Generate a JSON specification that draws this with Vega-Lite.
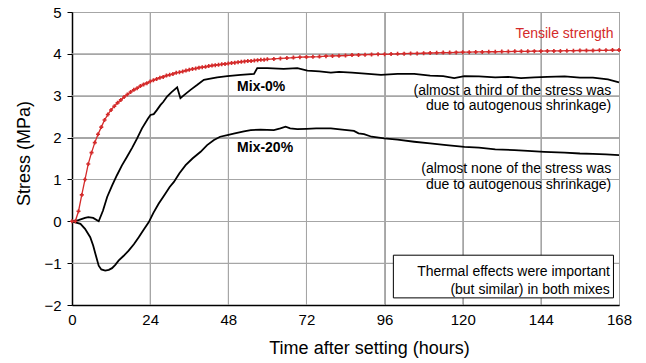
{
  "$schema": "https://vega.github.io/schema/vega-lite/v6.json",
  "width": 547,
  "height": 293,
  "autosize": {"type": "none"},
  "padding": {"left": 72, "top": 12, "right": 27, "bottom": 58},
  "background": "white",
  "config": {
    "font": "Liberation Sans",
    "view": {"stroke": "#555555", "strokeWidth": 1},
    "axis": {
      "grid": true,
      "gridColor": "#a6a6a6",
      "gridWidth": 1,
      "domainColor": "black",
      "domainWidth": 1.5,
      "labelColor": "black",
      "labelFontSize": 15,
      "labelFont": "Liberation Sans",
      "titleFont": "Liberation Sans",
      "titleFontWeight": "normal",
      "titleFontSize": 18,
      "titleColor": "black",
      "tickColor": "black"
    }
  },
  "datasets": {
    "gridx": [
      {"t": 23.85, "t2": 24.15}, {"t": 47.85, "t2": 48.15}, {"t": 71.85, "t2": 72.15},
      {"t": 95.85, "t2": 96.15}, {"t": 119.85, "t2": 120.15}, {"t": 143.85, "t2": 144.15}
    ],
    "gridy": [
      {"v": -1.012, "v2": -0.988}, {"v": 0.988, "v2": 1.012}, {"v": 1.988, "v2": 2.012},
      {"v": 2.988, "v2": 3.012}, {"v": 3.988, "v2": 4.012}
    ],
    "mix": [
      {"series": "Mix-0%", "t": 0, "v": 0},
      {"series": "Mix-0%", "t": 2, "v": 0.03},
      {"series": "Mix-0%", "t": 4, "v": 0.08},
      {"series": "Mix-0%", "t": 5, "v": 0.1},
      {"series": "Mix-0%", "t": 6.5, "v": 0.08},
      {"series": "Mix-0%", "t": 8.2, "v": 0.0},
      {"series": "Mix-0%", "t": 9.5, "v": 0.25},
      {"series": "Mix-0%", "t": 10.8, "v": 0.58},
      {"series": "Mix-0%", "t": 12.3, "v": 0.85},
      {"series": "Mix-0%", "t": 13.8, "v": 1.1},
      {"series": "Mix-0%", "t": 15.3, "v": 1.33},
      {"series": "Mix-0%", "t": 16.9, "v": 1.54},
      {"series": "Mix-0%", "t": 18.5, "v": 1.76},
      {"series": "Mix-0%", "t": 20, "v": 1.98},
      {"series": "Mix-0%", "t": 21.5, "v": 2.22},
      {"series": "Mix-0%", "t": 23.3, "v": 2.45},
      {"series": "Mix-0%", "t": 24.1, "v": 2.54},
      {"series": "Mix-0%", "t": 25.1, "v": 2.56},
      {"series": "Mix-0%", "t": 26, "v": 2.65},
      {"series": "Mix-0%", "t": 27.2, "v": 2.78},
      {"series": "Mix-0%", "t": 28, "v": 2.85},
      {"series": "Mix-0%", "t": 29.2, "v": 2.98},
      {"series": "Mix-0%", "t": 30.5, "v": 3.08},
      {"series": "Mix-0%", "t": 32.3, "v": 3.2},
      {"series": "Mix-0%", "t": 33.3, "v": 2.94},
      {"series": "Mix-0%", "t": 34.5, "v": 3.02},
      {"series": "Mix-0%", "t": 36.4, "v": 3.14},
      {"series": "Mix-0%", "t": 38.5, "v": 3.26},
      {"series": "Mix-0%", "t": 40.5, "v": 3.38},
      {"series": "Mix-0%", "t": 42.5, "v": 3.41},
      {"series": "Mix-0%", "t": 44.6, "v": 3.44},
      {"series": "Mix-0%", "t": 47.7, "v": 3.47},
      {"series": "Mix-0%", "t": 51.8, "v": 3.5},
      {"series": "Mix-0%", "t": 55.9, "v": 3.52},
      {"series": "Mix-0%", "t": 56.9, "v": 3.66},
      {"series": "Mix-0%", "t": 60, "v": 3.66},
      {"series": "Mix-0%", "t": 65, "v": 3.64},
      {"series": "Mix-0%", "t": 69.2, "v": 3.66},
      {"series": "Mix-0%", "t": 72.3, "v": 3.6},
      {"series": "Mix-0%", "t": 76, "v": 3.58},
      {"series": "Mix-0%", "t": 79.5, "v": 3.55},
      {"series": "Mix-0%", "t": 82, "v": 3.57},
      {"series": "Mix-0%", "t": 86, "v": 3.55},
      {"series": "Mix-0%", "t": 90, "v": 3.53},
      {"series": "Mix-0%", "t": 94.9, "v": 3.5},
      {"series": "Mix-0%", "t": 100, "v": 3.52},
      {"series": "Mix-0%", "t": 105.1, "v": 3.52},
      {"series": "Mix-0%", "t": 110, "v": 3.48},
      {"series": "Mix-0%", "t": 114, "v": 3.47},
      {"series": "Mix-0%", "t": 117.4, "v": 3.42},
      {"series": "Mix-0%", "t": 120.5, "v": 3.47},
      {"series": "Mix-0%", "t": 125, "v": 3.46},
      {"series": "Mix-0%", "t": 130, "v": 3.44},
      {"series": "Mix-0%", "t": 134, "v": 3.45},
      {"series": "Mix-0%", "t": 137.9, "v": 3.42},
      {"series": "Mix-0%", "t": 142, "v": 3.44},
      {"series": "Mix-0%", "t": 146, "v": 3.45},
      {"series": "Mix-0%", "t": 151.3, "v": 3.46},
      {"series": "Mix-0%", "t": 156, "v": 3.43},
      {"series": "Mix-0%", "t": 160, "v": 3.43},
      {"series": "Mix-0%", "t": 164.6, "v": 3.39},
      {"series": "Mix-0%", "t": 168, "v": 3.32},
      {"series": "Mix-20%", "t": 0, "v": 0},
      {"series": "Mix-20%", "t": 2.6, "v": -0.06},
      {"series": "Mix-20%", "t": 4, "v": -0.18},
      {"series": "Mix-20%", "t": 5.6, "v": -0.38},
      {"series": "Mix-20%", "t": 6.5, "v": -0.58},
      {"series": "Mix-20%", "t": 7.2, "v": -0.78},
      {"series": "Mix-20%", "t": 8.2, "v": -1.06},
      {"series": "Mix-20%", "t": 9, "v": -1.15},
      {"series": "Mix-20%", "t": 10.2, "v": -1.18},
      {"series": "Mix-20%", "t": 11.3, "v": -1.16},
      {"series": "Mix-20%", "t": 12.3, "v": -1.12},
      {"series": "Mix-20%", "t": 13.3, "v": -1.04},
      {"series": "Mix-20%", "t": 14.3, "v": -0.94},
      {"series": "Mix-20%", "t": 15.8, "v": -0.83},
      {"series": "Mix-20%", "t": 17.4, "v": -0.7},
      {"series": "Mix-20%", "t": 19, "v": -0.55},
      {"series": "Mix-20%", "t": 20.5, "v": -0.38},
      {"series": "Mix-20%", "t": 22, "v": -0.2},
      {"series": "Mix-20%", "t": 23.6, "v": -0.02},
      {"series": "Mix-20%", "t": 25, "v": 0.2},
      {"series": "Mix-20%", "t": 26.6, "v": 0.42},
      {"series": "Mix-20%", "t": 28.5, "v": 0.64},
      {"series": "Mix-20%", "t": 30, "v": 0.82},
      {"series": "Mix-20%", "t": 31.3, "v": 0.94},
      {"series": "Mix-20%", "t": 33, "v": 1.15},
      {"series": "Mix-20%", "t": 34.9, "v": 1.34},
      {"series": "Mix-20%", "t": 37, "v": 1.5},
      {"series": "Mix-20%", "t": 39.5, "v": 1.66},
      {"series": "Mix-20%", "t": 41.5, "v": 1.82},
      {"series": "Mix-20%", "t": 43.6, "v": 1.94},
      {"series": "Mix-20%", "t": 45.5, "v": 2.02},
      {"series": "Mix-20%", "t": 47.7, "v": 2.06},
      {"series": "Mix-20%", "t": 50, "v": 2.1},
      {"series": "Mix-20%", "t": 52.8, "v": 2.15},
      {"series": "Mix-20%", "t": 54.9, "v": 2.18},
      {"series": "Mix-20%", "t": 57.9, "v": 2.19},
      {"series": "Mix-20%", "t": 62, "v": 2.18},
      {"series": "Mix-20%", "t": 64, "v": 2.22},
      {"series": "Mix-20%", "t": 65.6, "v": 2.26},
      {"series": "Mix-20%", "t": 67, "v": 2.22},
      {"series": "Mix-20%", "t": 69.2, "v": 2.2},
      {"series": "Mix-20%", "t": 72, "v": 2.21},
      {"series": "Mix-20%", "t": 75, "v": 2.22},
      {"series": "Mix-20%", "t": 79.5, "v": 2.22},
      {"series": "Mix-20%", "t": 83, "v": 2.19},
      {"series": "Mix-20%", "t": 86.6, "v": 2.16},
      {"series": "Mix-20%", "t": 88, "v": 2.1},
      {"series": "Mix-20%", "t": 89.7, "v": 2.08},
      {"series": "Mix-20%", "t": 92, "v": 2.02},
      {"series": "Mix-20%", "t": 95.9, "v": 1.98},
      {"series": "Mix-20%", "t": 100, "v": 1.95},
      {"series": "Mix-20%", "t": 105.1, "v": 1.9},
      {"series": "Mix-20%", "t": 110, "v": 1.86},
      {"series": "Mix-20%", "t": 115, "v": 1.82},
      {"series": "Mix-20%", "t": 120.5, "v": 1.78},
      {"series": "Mix-20%", "t": 125, "v": 1.76},
      {"series": "Mix-20%", "t": 130, "v": 1.72},
      {"series": "Mix-20%", "t": 135.9, "v": 1.7},
      {"series": "Mix-20%", "t": 140, "v": 1.68},
      {"series": "Mix-20%", "t": 145, "v": 1.66},
      {"series": "Mix-20%", "t": 151.3, "v": 1.64},
      {"series": "Mix-20%", "t": 156, "v": 1.62},
      {"series": "Mix-20%", "t": 160, "v": 1.61},
      {"series": "Mix-20%", "t": 164, "v": 1.6},
      {"series": "Mix-20%", "t": 168, "v": 1.58}
    ],
    "tensile": [
      {"t": 0, "v": 0}, {"t": 1, "v": 0}, {"t": 2, "v": 0.24}, {"t": 3, "v": 0.63}, {"t": 4, "v": 1.0},
      {"t": 5, "v": 1.37}, {"t": 6, "v": 1.64}, {"t": 7, "v": 1.88}, {"t": 8, "v": 2.08}, {"t": 9, "v": 2.25},
      {"t": 10, "v": 2.42}, {"t": 11, "v": 2.55}, {"t": 12, "v": 2.66}, {"t": 13, "v": 2.75}, {"t": 14, "v": 2.83},
      {"t": 15, "v": 2.9}, {"t": 16, "v": 2.97}, {"t": 17, "v": 3.03}, {"t": 18, "v": 3.09}, {"t": 19, "v": 3.14},
      {"t": 20, "v": 3.18}, {"t": 21, "v": 3.23}, {"t": 22, "v": 3.27}, {"t": 23, "v": 3.3}, {"t": 24, "v": 3.34},
      {"t": 25, "v": 3.37}, {"t": 26, "v": 3.4}, {"t": 27, "v": 3.43}, {"t": 28, "v": 3.45}, {"t": 29, "v": 3.48},
      {"t": 30, "v": 3.5}, {"t": 31, "v": 3.52}, {"t": 32, "v": 3.55}, {"t": 33, "v": 3.56}, {"t": 34, "v": 3.58},
      {"t": 35, "v": 3.6}, {"t": 36, "v": 3.62}, {"t": 37, "v": 3.64}, {"t": 38, "v": 3.65}, {"t": 39, "v": 3.67},
      {"t": 40, "v": 3.68}, {"t": 41, "v": 3.69}, {"t": 42, "v": 3.71}, {"t": 43, "v": 3.72}, {"t": 44, "v": 3.73},
      {"t": 45, "v": 3.74}, {"t": 46, "v": 3.75}, {"t": 47, "v": 3.76}, {"t": 48, "v": 3.77}, {"t": 49, "v": 3.78},
      {"t": 50, "v": 3.79}, {"t": 51, "v": 3.8}, {"t": 52, "v": 3.81}, {"t": 53, "v": 3.82}, {"t": 54, "v": 3.83},
      {"t": 55, "v": 3.83}, {"t": 56, "v": 3.84}, {"t": 57, "v": 3.85}, {"t": 58, "v": 3.86}, {"t": 59, "v": 3.86},
      {"t": 60, "v": 3.87}, {"t": 62, "v": 3.88}, {"t": 64, "v": 3.89}, {"t": 66, "v": 3.9}, {"t": 68, "v": 3.91},
      {"t": 70, "v": 3.92}, {"t": 72, "v": 3.925}, {"t": 74, "v": 3.93}, {"t": 76, "v": 3.935}, {"t": 78, "v": 3.945},
      {"t": 80, "v": 3.95}, {"t": 82, "v": 3.955}, {"t": 84, "v": 3.96}, {"t": 86, "v": 3.97}, {"t": 88, "v": 3.975},
      {"t": 90, "v": 3.98}, {"t": 92, "v": 3.985}, {"t": 94, "v": 3.99}, {"t": 96, "v": 3.99}, {"t": 98, "v": 3.995},
      {"t": 100, "v": 4.0}, {"t": 102, "v": 4.005}, {"t": 104, "v": 4.01}, {"t": 106, "v": 4.01}, {"t": 108, "v": 4.015},
      {"t": 110, "v": 4.02}, {"t": 112, "v": 4.025}, {"t": 114, "v": 4.03}, {"t": 116, "v": 4.03}, {"t": 118, "v": 4.035},
      {"t": 120, "v": 4.04}, {"t": 122, "v": 4.04}, {"t": 124, "v": 4.045}, {"t": 126, "v": 4.045}, {"t": 128, "v": 4.05},
      {"t": 130, "v": 4.05}, {"t": 132, "v": 4.055}, {"t": 134, "v": 4.055}, {"t": 136, "v": 4.06}, {"t": 138, "v": 4.06},
      {"t": 140, "v": 4.06}, {"t": 142, "v": 4.065}, {"t": 144, "v": 4.065}, {"t": 146, "v": 4.07}, {"t": 148, "v": 4.07},
      {"t": 150, "v": 4.07}, {"t": 152, "v": 4.075}, {"t": 154, "v": 4.075}, {"t": 156, "v": 4.08}, {"t": 158, "v": 4.08},
      {"t": 160, "v": 4.08}, {"t": 162, "v": 4.085}, {"t": 164, "v": 4.085}, {"t": 166, "v": 4.09}, {"t": 168, "v": 4.09}
    ]
  },
  "layer": [
    {
      "data": {"name": "gridx"},
      "mark": {"type": "rect", "fill": "#a6a6a6", "strokeWidth": 0},
      "encoding": {
        "x": {
          "field": "t", "type": "quantitative",
          "scale": {"domain": [0, 168], "nice": false, "zero": false},
          "axis": {
            "values": [0, 24, 48, 72, 96, 120, 144, 168],
            "title": "Time after setting (hours)",
            "grid": true,
            "tickSize": 0, "labelPadding": 7,
            "titleX": 297, "titleY": 43, "titleBaseline": "middle",
            "labelFlush": false
          }
        },
        "x2": {"field": "t2"},
        "y": {"datum": -2, "type": "quantitative"},
        "y2": {"datum": 5}
      }
    },
    {
      "data": {"name": "gridy"},
      "mark": {"type": "rect", "fill": "#a6a6a6", "strokeWidth": 0},
      "encoding": {
        "y": {
          "field": "v", "type": "quantitative",
          "scale": {"domain": [-2, 5], "nice": false, "zero": false},
          "axis": {
            "values": [-2, -1, 0, 1, 2, 3, 4, 5],
            "title": "Stress (MPa)",
            "grid": true,
            "tickSize": 5, "labelPadding": 6,
            "titleX": -48, "titleY": 141, "titleAngle": -90,
            "titleBaseline": "middle", "titleAlign": "center",
            "labelFlush": false
          }
        },
        "y2": {"field": "v2"},
        "x": {"datum": 0, "type": "quantitative"},
        "x2": {"datum": 168}
      }
    },
    {
      "data": {"name": "mix"},
      "mark": {"type": "line", "color": "black", "strokeWidth": 1.8},
      "encoding": {
        "x": {"field": "t", "type": "quantitative"},
        "y": {"field": "v", "type": "quantitative"},
        "detail": {"field": "series", "type": "nominal"}
      }
    },
    {
      "mark": {"type": "rule", "color": "black", "strokeWidth": 1.6},
      "encoding": {"y": {"datum": 0}}
    },
    {
      "data": {"name": "tensile"},
      "mark": {
        "type": "line", "color": "#d42a2a", "strokeWidth": 1.3,
        "point": {"shape": "cross", "size": 16, "color": "#d42a2a", "filled": true}
      },
      "encoding": {
        "x": {"field": "t", "type": "quantitative"},
        "y": {"field": "v", "type": "quantitative"}
      }
    },
    {
      "data": {"values": [{"t": 98.7, "t2": 166.3, "v": -0.81, "v2": -1.83}]},
      "mark": {"type": "rect", "fill": "white", "stroke": "black", "strokeWidth": 1},
      "encoding": {
        "x": {"field": "t", "type": "quantitative"},
        "x2": {"field": "t2"},
        "y": {"field": "v", "type": "quantitative"},
        "y2": {"field": "v2"}
      }
    },
    {
      "data": {"values": [{"label": "Tensile strength", "t": 166.3, "v": 4.47}]},
      "mark": {"type": "text", "align": "right", "baseline": "middle", "fontSize": 14, "color": "#d42a2a", "font": "Liberation Sans"},
      "encoding": {
        "x": {"field": "t", "type": "quantitative"},
        "y": {"field": "v", "type": "quantitative"},
        "text": {"field": "label"}
      }
    },
    {
      "data": {"values": [
        {"label": "Mix-0%", "t": 50.7, "v": 3.2},
        {"label": "Mix-20%", "t": 50.7, "v": 1.74}
      ]},
      "mark": {"type": "text", "align": "left", "baseline": "middle", "fontSize": 14, "fontWeight": "bold", "color": "black", "font": "Liberation Sans"},
      "encoding": {
        "x": {"field": "t", "type": "quantitative"},
        "y": {"field": "v", "type": "quantitative"},
        "text": {"field": "label"}
      }
    },
    {
      "data": {"values": [
        {"label": "(almost a third of the stress was", "t": 165.6, "v": 3.11},
        {"label": "due to autogenous shrinkage)", "t": 165.6, "v": 2.75},
        {"label": "(almost none of the stress was", "t": 165.6, "v": 1.25},
        {"label": "due to autogenous shrinkage)", "t": 165.6, "v": 0.86},
        {"label": "Thermal effects were important", "t": 165.2, "v": -1.21},
        {"label": "(but similar) in both mixes", "t": 165.2, "v": -1.64}
      ]},
      "mark": {"type": "text", "align": "right", "baseline": "middle", "fontSize": 14, "color": "black", "font": "Liberation Sans"},
      "encoding": {
        "x": {"field": "t", "type": "quantitative"},
        "y": {"field": "v", "type": "quantitative"},
        "text": {"field": "label"}
      }
    }
  ]
}
